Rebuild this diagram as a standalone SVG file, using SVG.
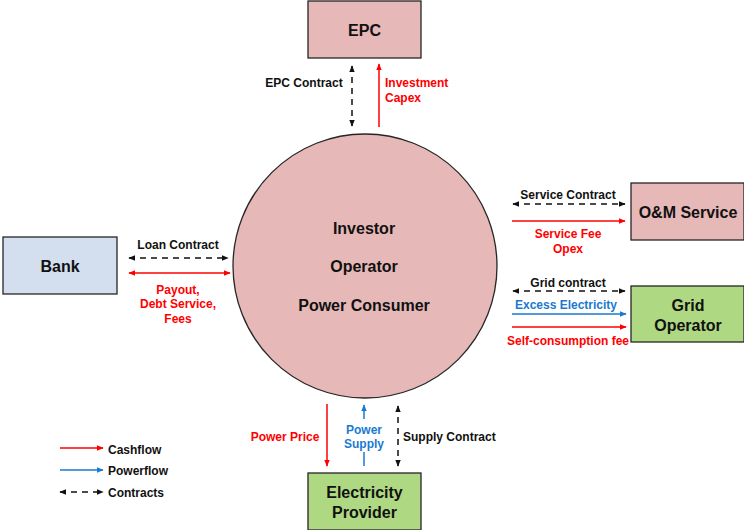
<svg xmlns="http://www.w3.org/2000/svg" width="744" height="530" viewBox="0 0 744 530">
<defs>
<style>
.node{stroke:#262626;stroke-width:1.3}
.pink{fill:#e6b8b7}
.blue{fill:#d3dfee}
.green{fill:#afd883}
.nt{font-family:"Liberation Sans",Arial,sans-serif;font-weight:bold;font-size:16px;fill:#111;text-anchor:middle}
.lt{font-family:"Liberation Sans",Arial,sans-serif;font-weight:bold;font-size:12px;text-anchor:middle}
.st{text-anchor:start}
.k{fill:#111}.r{fill:#ff0000}.b{fill:#1a7ad0}
.cash{stroke:#ff0000;stroke-width:1.5;fill:none}
.pow{stroke:#1a7ad0;stroke-width:1.5;fill:none}
.con{stroke:#111;stroke-width:1.5;fill:none;stroke-dasharray:6 5}
</style>
<marker id="ar" viewBox="0 0 10 10" refX="9" refY="5" markerWidth="7" markerHeight="7" orient="auto-start-reverse" markerUnits="userSpaceOnUse"><path d="M0,1 L10,5 L0,9 z" fill="#ff0000"/></marker>
<marker id="ab" viewBox="0 0 10 10" refX="9" refY="5" markerWidth="7" markerHeight="7" orient="auto-start-reverse" markerUnits="userSpaceOnUse"><path d="M0,1 L10,5 L0,9 z" fill="#1a7ad0"/></marker>
<marker id="ak" viewBox="0 0 10 10" refX="9" refY="5" markerWidth="7" markerHeight="7" orient="auto-start-reverse" markerUnits="userSpaceOnUse"><path d="M0,1 L10,5 L0,9 z" fill="#111"/></marker>
</defs>
<rect width="744" height="530" fill="#fff"/>
<g id="epc"><rect class="node pink" x="308" y="1" width="113" height="57"/><text class="nt" x="364.5" y="36">EPC</text></g>
<g id="investor"><circle class="node pink" cx="365" cy="266" r="132"/>
<text class="nt" x="364" y="234">Investor</text><text class="nt" x="364" y="272">Operator</text><text class="nt" x="364" y="311">Power Consumer</text></g>
<g id="bank"><rect class="node blue" x="3" y="237" width="114" height="57"/><text class="nt" x="60" y="272">Bank</text></g>
<g id="om"><rect class="node pink" x="631" y="183" width="113" height="57"/><text class="nt" x="688" y="218">O&amp;M Service</text></g>
<g id="grid"><rect class="node green" x="631" y="286" width="113" height="56"/><text class="nt" x="688" y="311">Grid</text><text class="nt" x="688" y="331">Operator</text></g>
<g id="provider"><rect class="node green" x="308" y="473" width="113" height="57"/><text class="nt" x="364.5" y="498">Electricity</text><text class="nt" x="364.5" y="518">Provider</text></g>
<g id="connectors">
<line class="con" x1="352" y1="66" x2="352" y2="126" marker-start="url(#ak)" marker-end="url(#ak)"/>
<line class="cash" x1="379" y1="127" x2="379" y2="64" marker-end="url(#ar)"/>
<line class="con" x1="129" y1="258" x2="228" y2="258" marker-start="url(#ak)" marker-end="url(#ak)"/>
<line class="cash" x1="129" y1="273" x2="230" y2="273" marker-start="url(#ar)" marker-end="url(#ar)"/>
<line class="con" x1="513" y1="204" x2="625" y2="204" marker-start="url(#ak)" marker-end="url(#ak)"/>
<line class="cash" x1="512" y1="221" x2="625" y2="221" marker-end="url(#ar)"/>
<line class="con" x1="513" y1="291" x2="625" y2="291" marker-start="url(#ak)" marker-end="url(#ak)"/>
<line class="pow" x1="512" y1="314" x2="626" y2="314" marker-end="url(#ab)"/>
<line class="cash" x1="512" y1="327" x2="626" y2="327" marker-end="url(#ar)"/>
<line class="cash" x1="327" y1="404" x2="327" y2="466" marker-end="url(#ar)"/>
<line class="pow" x1="364" y1="419" x2="364" y2="405" marker-end="url(#ab)"/>
<line class="pow" x1="364" y1="452" x2="364" y2="466"/>
<line class="con" x1="398" y1="406" x2="398" y2="466" marker-start="url(#ak)" marker-end="url(#ak)"/>
<line class="cash" x1="60" y1="448" x2="103" y2="448" marker-end="url(#ar)"/>
<line class="pow" x1="60" y1="470" x2="103" y2="470" marker-end="url(#ab)"/>
<line class="con" x1="60" y1="492" x2="103" y2="492" marker-start="url(#ak)" marker-end="url(#ak)"/>
</g>
<g id="labels">
<text class="lt k" x="304" y="87">EPC Contract</text>
<text class="lt r st" x="385" y="87">Investment</text>
<text class="lt r st" x="385" y="102">Capex</text>
<text class="lt k" x="178" y="249">Loan Contract</text>
<text class="lt r" x="178" y="294">Payout,</text>
<text class="lt r" x="178" y="308">Debt Service,</text>
<text class="lt r" x="178" y="323">Fees</text>
<text class="lt k" x="568" y="199">Service Contract</text>
<text class="lt r" x="568" y="238">Service Fee</text>
<text class="lt r" x="568" y="253">Opex</text>
<text class="lt k" x="568" y="287">Grid contract</text>
<text class="lt b" x="566" y="309">Excess Electricity</text>
<text class="lt r" x="568" y="345">Self-consumption fee</text>
<text class="lt r" x="285" y="441">Power Price</text>
<text class="lt b" x="364" y="434">Power</text>
<text class="lt b" x="364" y="448">Supply</text>
<text class="lt k st" x="403" y="441">Supply Contract</text>
<text class="lt k st" x="108" y="454">Cashflow</text>
<text class="lt k st" x="108" y="475">Powerflow</text>
<text class="lt k st" x="108" y="497">Contracts</text>
</g>
</svg>
